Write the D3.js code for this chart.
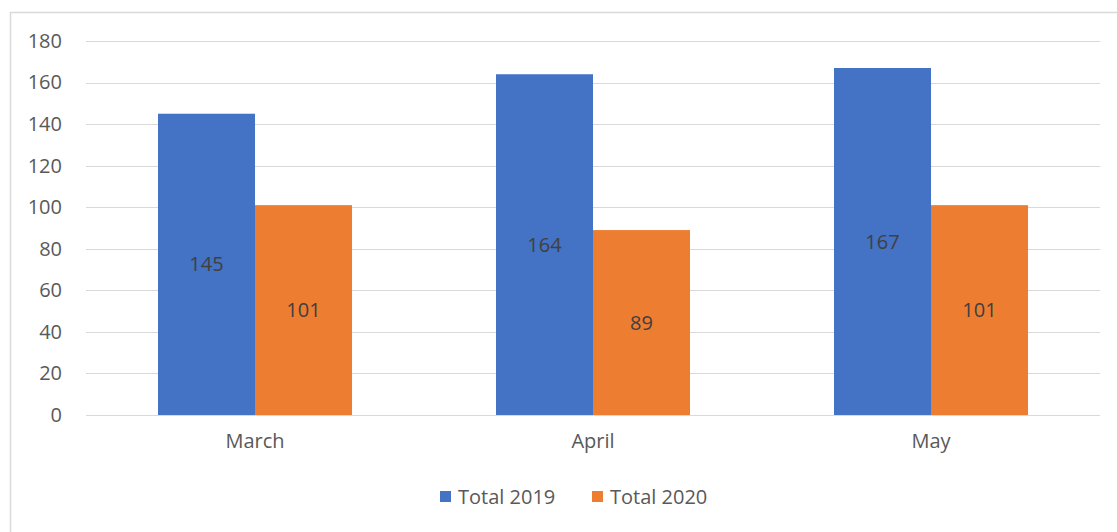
<!DOCTYPE html>
<html>
<head>
<meta charset="utf-8">
<script src="https://cdn.jsdelivr.net/npm/d3@7"></script>
<style>
  html, body { margin: 0; padding: 0; background: #fff; }
  svg { display: block; font-family: "Open Sans", "Noto Sans", sans-serif; }
</style>
</head>
<body>
<svg id="chart" width="1117" height="532"></svg>
<script>
// Monthly totals, 2019 vs 2020
const months = ["March", "April", "May"];
const seriesNames = ["Total 2019", "Total 2020"];
const total2019 = [145, 164, 167];
const total2020 = [101, 89, 101];
const yTicks = [0, 20, 40, 60, 80, 100, 120, 140, 160, 180];
const colors = ["#4472C4", "#ED7D31"];

const FONT = 20;
const svg = d3.select("#chart");
const W = 1117, H = 532;

// chart frame
svg.append("rect")
  .attr("x", 10.5).attr("y", 12.5)
  .attr("width", W + 10).attr("height", H + 10)
  .attr("fill", "#fff").attr("stroke", "#d9d9d9").attr("stroke-width", 1.5);

const plot = { left: 86, right: 1100, top: 41, bottom: 415 };

const y = d3.scaleLinear().domain([0, 180]).range([plot.bottom, plot.top]);
const x = d3.scaleBand().domain(months)
  .range([plot.left, plot.right])
  .paddingInner(0.426).paddingOuter(0.213);
const xs = d3.scaleBand().domain(seriesNames).range([0, x.bandwidth()]);

// gridlines
svg.append("g").selectAll("line").data(yTicks).join("line")
  .attr("x1", plot.left).attr("x2", plot.right)
  .attr("y1", d => Math.round(y(d)) + 0.5).attr("y2", d => Math.round(y(d)) + 0.5)
  .attr("stroke", "#d9d9d9").attr("stroke-width", 1);

// y axis labels
const yAxis = d3.axisLeft(y).tickValues(yTicks).tickSize(0).tickPadding(0);
const gy = svg.append("g").attr("transform", `translate(62,0)`).call(yAxis);
gy.select(".domain").remove();
gy.selectAll("text").attr("font-size", FONT).attr("fill", "#595959")
  .attr("font-family", "'Open Sans', 'Noto Sans', sans-serif");

// bars
const rows = months.map((m, i) => ({ month: m, values: [total2019[i], total2020[i]] }));
const groups = svg.append("g").selectAll("g").data(rows).join("g")
  .attr("transform", d => `translate(${x(d.month)},0)`);

groups.selectAll("rect").data(d => d.values.map((v, j) => ({ name: seriesNames[j], v, j })))
  .join("rect")
  .attr("x", d => xs(d.name))
  .attr("width", xs.bandwidth())
  .attr("y", d => y(d.v))
  .attr("height", d => y(0) - y(d.v))
  .attr("fill", d => colors[d.j]);

// value labels centered in bars
groups.selectAll("text.val").data(d => d.values.map((v, j) => ({ name: seriesNames[j], v, j })))
  .join("text").attr("class", "val")
  .attr("x", d => xs(d.name) + xs.bandwidth() / 2)
  .attr("y", d => y(d.v / 2))
  .attr("dy", "0.35em")
  .attr("text-anchor", "middle")
  .attr("font-size", FONT).attr("fill", "#404040")
  .text(d => d.v);

// x axis labels
const xAxis = d3.axisBottom(x).tickSize(0).tickPadding(0);
const gx = svg.append("g").attr("transform", `translate(0,${plot.bottom + 19})`).call(xAxis);
gx.select(".domain").remove();
gx.selectAll("text").attr("font-size", FONT).attr("fill", "#595959")
  .attr("font-family", "'Open Sans', 'Noto Sans', sans-serif");

// legend
const legendX = [440, 592];
const legend = svg.append("g").selectAll("g").data(seriesNames).join("g")
  .attr("transform", (d, i) => `translate(${legendX[i]},491)`);
legend.append("rect").attr("width", 11).attr("height", 11)
  .attr("fill", (d, i) => colors[i]);
legend.append("text").attr("x", 18).attr("y", 5.5).attr("dy", "0.35em")
  .attr("font-size", FONT).attr("fill", "#595959").text(d => d);
</script>
</body>
</html>
